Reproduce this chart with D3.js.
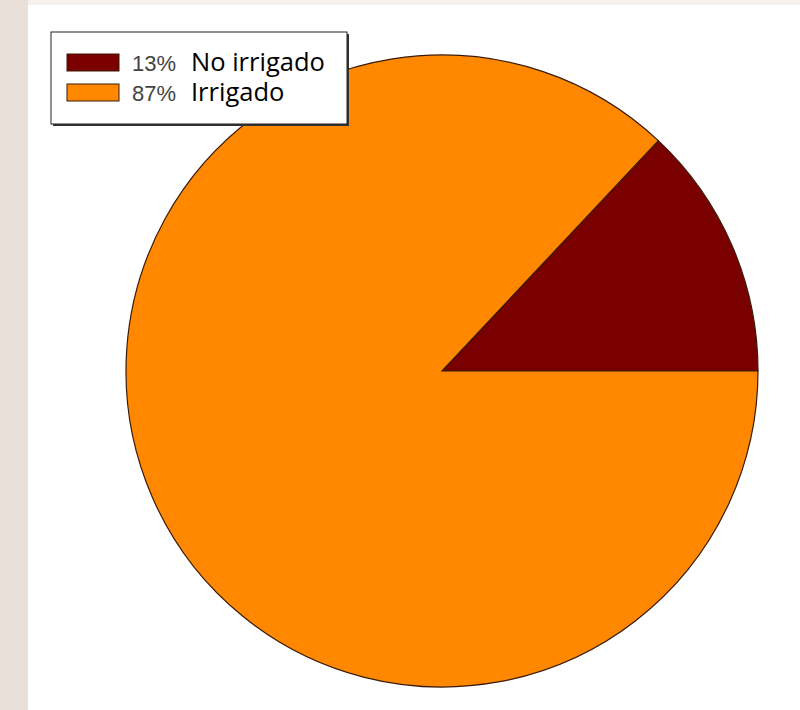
<!DOCTYPE html>
<html><head><meta charset="utf-8">
<script src="https://cdn.jsdelivr.net/npm/d3@7"></script>
<style>html,body{margin:0;padding:0;background:#fff;}</style>
</head><body>
<svg id="c" width="800" height="710"></svg>
<script>
const categories = ["No irrigado", "Irrigado"];
const values = [13, 87];
const percentLabels = ["13%", "87%"];
const colors = ["#7a0000", "#ff8800"];

const svg = d3.select("#c");
// page background strips
svg.append("rect").attr("x",0).attr("y",0).attr("width",800).attr("height",710).attr("fill","#f4f0eb");
svg.append("rect").attr("x",0).attr("y",0).attr("width",28).attr("height",710).attr("fill","#e8e0d8");
svg.append("rect").attr("x",28).attr("y",5).attr("width",772).attr("height",705).attr("fill","#ffffff");

const cx = 442, cy = 371, r = 316;
const pie = d3.pie().sort(null).value(d => d)
  .startAngle(Math.PI/2).endAngle(Math.PI/2 - 2*Math.PI);
const arc = d3.arc().innerRadius(0).outerRadius(r);
const g = svg.append("g").attr("transform", `translate(${cx},${cy})`);
g.selectAll("path").data(pie(values)).join("path")
  .attr("d", arc)
  .attr("fill", (d,i) => colors[i])
  .attr("stroke", "#3a1a0a").attr("stroke-width", 1.2);

// legend
const lx = 51, ly = 32, lw = 296, lh = 92;
svg.append("rect").attr("x", lx+2).attr("y", ly+2).attr("width", lw).attr("height", lh).attr("fill", "#333");
svg.append("rect").attr("x", lx).attr("y", ly).attr("width", lw).attr("height", lh)
  .attr("fill", "#fff").attr("stroke", "#222").attr("stroke-width", 1);
const rowY = d3.scaleBand().domain(categories).range([ly+18, ly+78]);
const lg = svg.append("g");
categories.forEach((c, i) => {
  const y = rowY(c);
  lg.append("rect").attr("x", 67).attr("y", y + 4).attr("width", 52).attr("height", 17)
    .attr("fill", colors[i]).attr("stroke", "#3a1a0a").attr("stroke-width", 1);
  lg.append("text").attr("x", 132).attr("y", y + 21)
    .attr("font-family", "Liberation Sans, Arial, sans-serif").attr("font-size", 22)
    .attr("fill", "#444").text(percentLabels[i]);
  lg.append("text").attr("x", 191).attr("y", y + 21)
    .attr("font-family", "Open Sans, sans-serif").attr("font-size", 25.5)
    .attr("fill", "#000").text(c);
});
</script>
</body></html>
